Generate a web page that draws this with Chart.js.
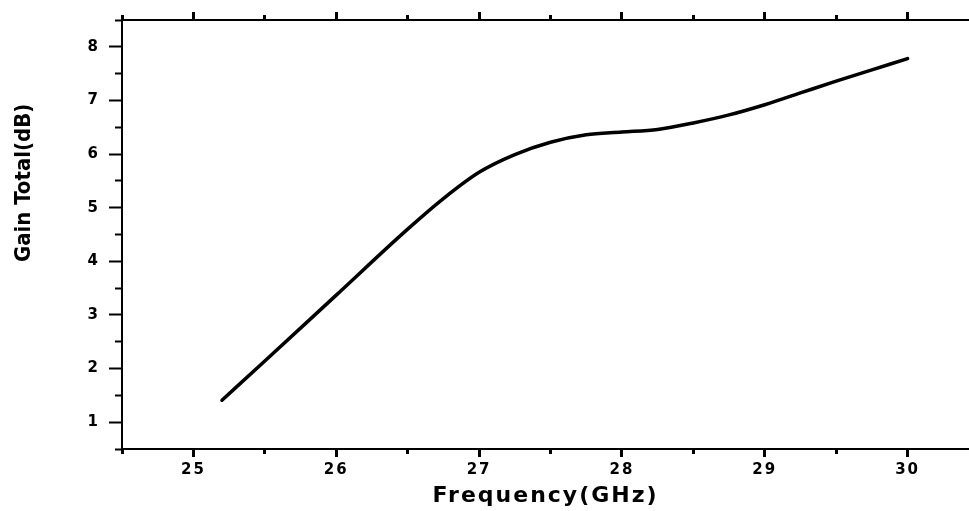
<!DOCTYPE html>
<html>
<head>
<meta charset="utf-8">
<script src="https://cdn.jsdelivr.net/npm/chart.js@4"></script>
<style>
  html, body { margin: 0; padding: 0; background: #fff; overflow: hidden; }
  #wrap { width: 969px; height: 511px; }
</style>
</head>
<body>
<div id="wrap"><canvas id="chart"></canvas></div>
<script>
const ctx = document.getElementById('chart');

// frequency (GHz) and total gain (dB)
const freq = [25.2, 25.5, 26.0, 26.5, 26.75, 27.0, 27.25, 27.5, 27.75, 28.0, 28.25, 28.5, 28.75, 29.0, 29.25, 29.5, 29.75, 30.0];
const gain = [1.41, 2.14, 3.37, 4.60, 5.17, 5.66, 5.99, 6.22, 6.36, 6.41, 6.46, 6.58, 6.73, 6.92, 7.14, 7.36, 7.57, 7.78];

const xMin = 24.5, xMax = 30.43;
const yMin = 0.5, yMax = 8.5;
const xTitle = 'Frequency(GHz)';
const yTitle = 'Gain Total(dB)';

const isMajor = (v) => Math.abs(v - Math.round(v)) < 1e-6;
const tickFont = { family: "'DejaVu Sans', sans-serif", size: 15, weight: 'bold' };

// minor ticks are drawn as a dashed piece of the full tick
const minorDash = (len) => (c) => isMajor(c.tick.value) ? [] : [len, 100];
const minorOffset = (off) => (c) => isMajor(c.tick.value) ? 0 : off;

// the x axis text in the original is wide, the y title is narrow
const spacing = {
    id: 'spacing',
    beforeDraw(chart) { chart.ctx.letterSpacing = '2px'; },
    beforeDatasetsDraw(chart) { chart.ctx.letterSpacing = '0px'; }
};

const data = {
    datasets: [{
        data: freq.map((f, i) => ({ x: f, y: gain[i] })),
        borderColor: '#000',
        borderWidth: 3.5,
        borderCapStyle: 'round',
        pointRadius: 0,
        cubicInterpolationMode: 'monotone',
        fill: false
    }]
};

const config = {
    type: 'line',
    data,
    plugins: [spacing],
    options: {
        responsive: true,
        maintainAspectRatio: false,
        animation: false,
        layout: { padding: { top: 11, right: 0, bottom: 0, left: 0 } },
        plugins: { legend: { display: false }, tooltip: { enabled: false } },
        scales: {
            x: {
                type: 'linear',
                position: 'bottom',
                min: xMin, max: xMax,
                afterFit: (s) => { s.height = 62; },
                border: { color: '#000', width: 2 },
                grid: {
                    drawOnChartArea: false,
                    tickLength: 8,
                    tickWidth: 3,
                    tickColor: '#000',
                    tickBorderDash: minorDash(4),
                    tickBorderDashOffset: 0
                },
                ticks: {
                    stepSize: 0.5,
                    includeBounds: false,
                    autoSkip: false,
                    maxRotation: 0,
                    padding: 4,
                    color: '#000',
                    font: tickFont,
                    callback: (v) => isMajor(v) ? String(Math.round(v)) : ''
                },
                title: {
                    display: true,
                    text: xTitle,
                    color: '#000',
                    font: { family: "'DejaVu Sans', sans-serif", size: 22, weight: 'bold' },
                    padding: { top: 0, bottom: 2 }
                }
            },
            x2: {
                type: 'linear',
                axis: 'x',
                position: 'top',
                min: xMin, max: xMax,
                afterFit: (s) => { s.height = 8; },
                border: { color: '#000', width: 2 },
                grid: {
                    drawOnChartArea: false,
                    tickLength: 8,
                    tickWidth: 3,
                    tickColor: '#000',
                    tickBorderDash: minorDash(4),
                    tickBorderDashOffset: minorOffset(101)
                },
                ticks: {
                    stepSize: 0.5,
                    includeBounds: false,
                    autoSkip: false,
                    display: false
                }
            },
            y: {
                type: 'linear',
                position: 'left',
                min: yMin, max: yMax,
                afterFit: (s) => { s.width = 122; },
                border: { color: '#000', width: 2, z: 1 },
                grid: {
                    z: 1,
                    drawOnChartArea: false,
                    tickLength: 13,
                    tickWidth: 2,
                    tickColor: '#000',
                    tickBorderDash: minorDash(6),
                    tickBorderDashOffset: minorOffset(100)
                },
                ticks: {
                    stepSize: 0.5,
                    includeBounds: false,
                    autoSkip: false,
                    padding: 11,
                    z: 1,
                    color: '#000',
                    font: tickFont,
                    callback: (v) => isMajor(v) ? String(Math.round(v)) : ''
                },
                title: {
                    display: true,
                    text: ' '.repeat(15) + yTitle,
                    color: '#000',
                    font: { family: "'Liberation Sans Narrow', 'DejaVu Sans Condensed', 'Liberation Sans', sans-serif", size: 22, weight: 'bold' },
                    padding: { top: 11, bottom: 0 }
                }
            }
        }
    }
};

new Chart(ctx, config);
</script>
</body>
</html>
